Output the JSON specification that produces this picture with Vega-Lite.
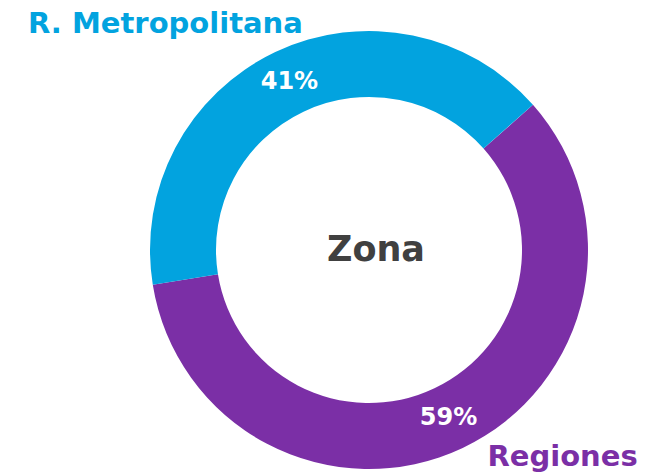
{
  "$schema": "https://vega.github.io/schema/vega-lite/v6.json",
  "width": 558,
  "height": 448,
  "autosize": {"type": "none"},
  "padding": {"left": 90, "top": 26, "right": 0, "bottom": 0},
  "background": "white",
  "config": {"view": {"stroke": null}},
  "layer": [
    {
      "data": {"values": [
        {"zona": "Regiones", "share": 0.59},
        {"zona": "R. Metropolitana", "share": 0.41}
      ]},
      "encoding": {
        "theta": {"field": "share", "type": "quantitative", "stack": true, "scale": {"range": [0.846, 7.129]}},
        "color": {"field": "zona", "type": "nominal", "scale": {"domain": ["Regiones", "R. Metropolitana"], "range": ["#7B2FA6", "#02A3DF"]}, "legend": null},
        "order": {"field": "share", "type": "quantitative", "sort": "descending"}
      },
      "layer": [
        {"mark": {"type": "arc", "outerRadius": 219, "innerRadius": 153}},
        {
          "mark": {"type": "text", "radius": 186, "font": "DejaVu Sans", "fontWeight": "bold", "fontSize": 24},
          "encoding": {"text": {"field": "share", "type": "quantitative", "format": ".0%"}, "color": {"value": "white"}}
        },
        {
          "mark": {"type": "text", "radius": 186, "font": "DejaVu Sans", "fontWeight": "bold", "fontSize": 29,
            "dx": {"expr": "datum.zona === 'Regiones' ? 114 : -124"},
            "dy": {"expr": "datum.zona === 'Regiones' ? 39 : -58"}},
          "encoding": {"text": {"field": "zona", "type": "nominal"}}
        }
      ]
    },
    {
      "data": {"values": [{"t": "Zona"}]},
      "mark": {"type": "text", "x": {"expr": "width/2"}, "y": {"expr": "height/2"}, "dx": 7, "font": "DejaVu Sans", "fontWeight": "bold", "fontSize": 35, "color": "#404040"},
      "encoding": {"text": {"field": "t", "type": "nominal"}}
    }
  ]
}
